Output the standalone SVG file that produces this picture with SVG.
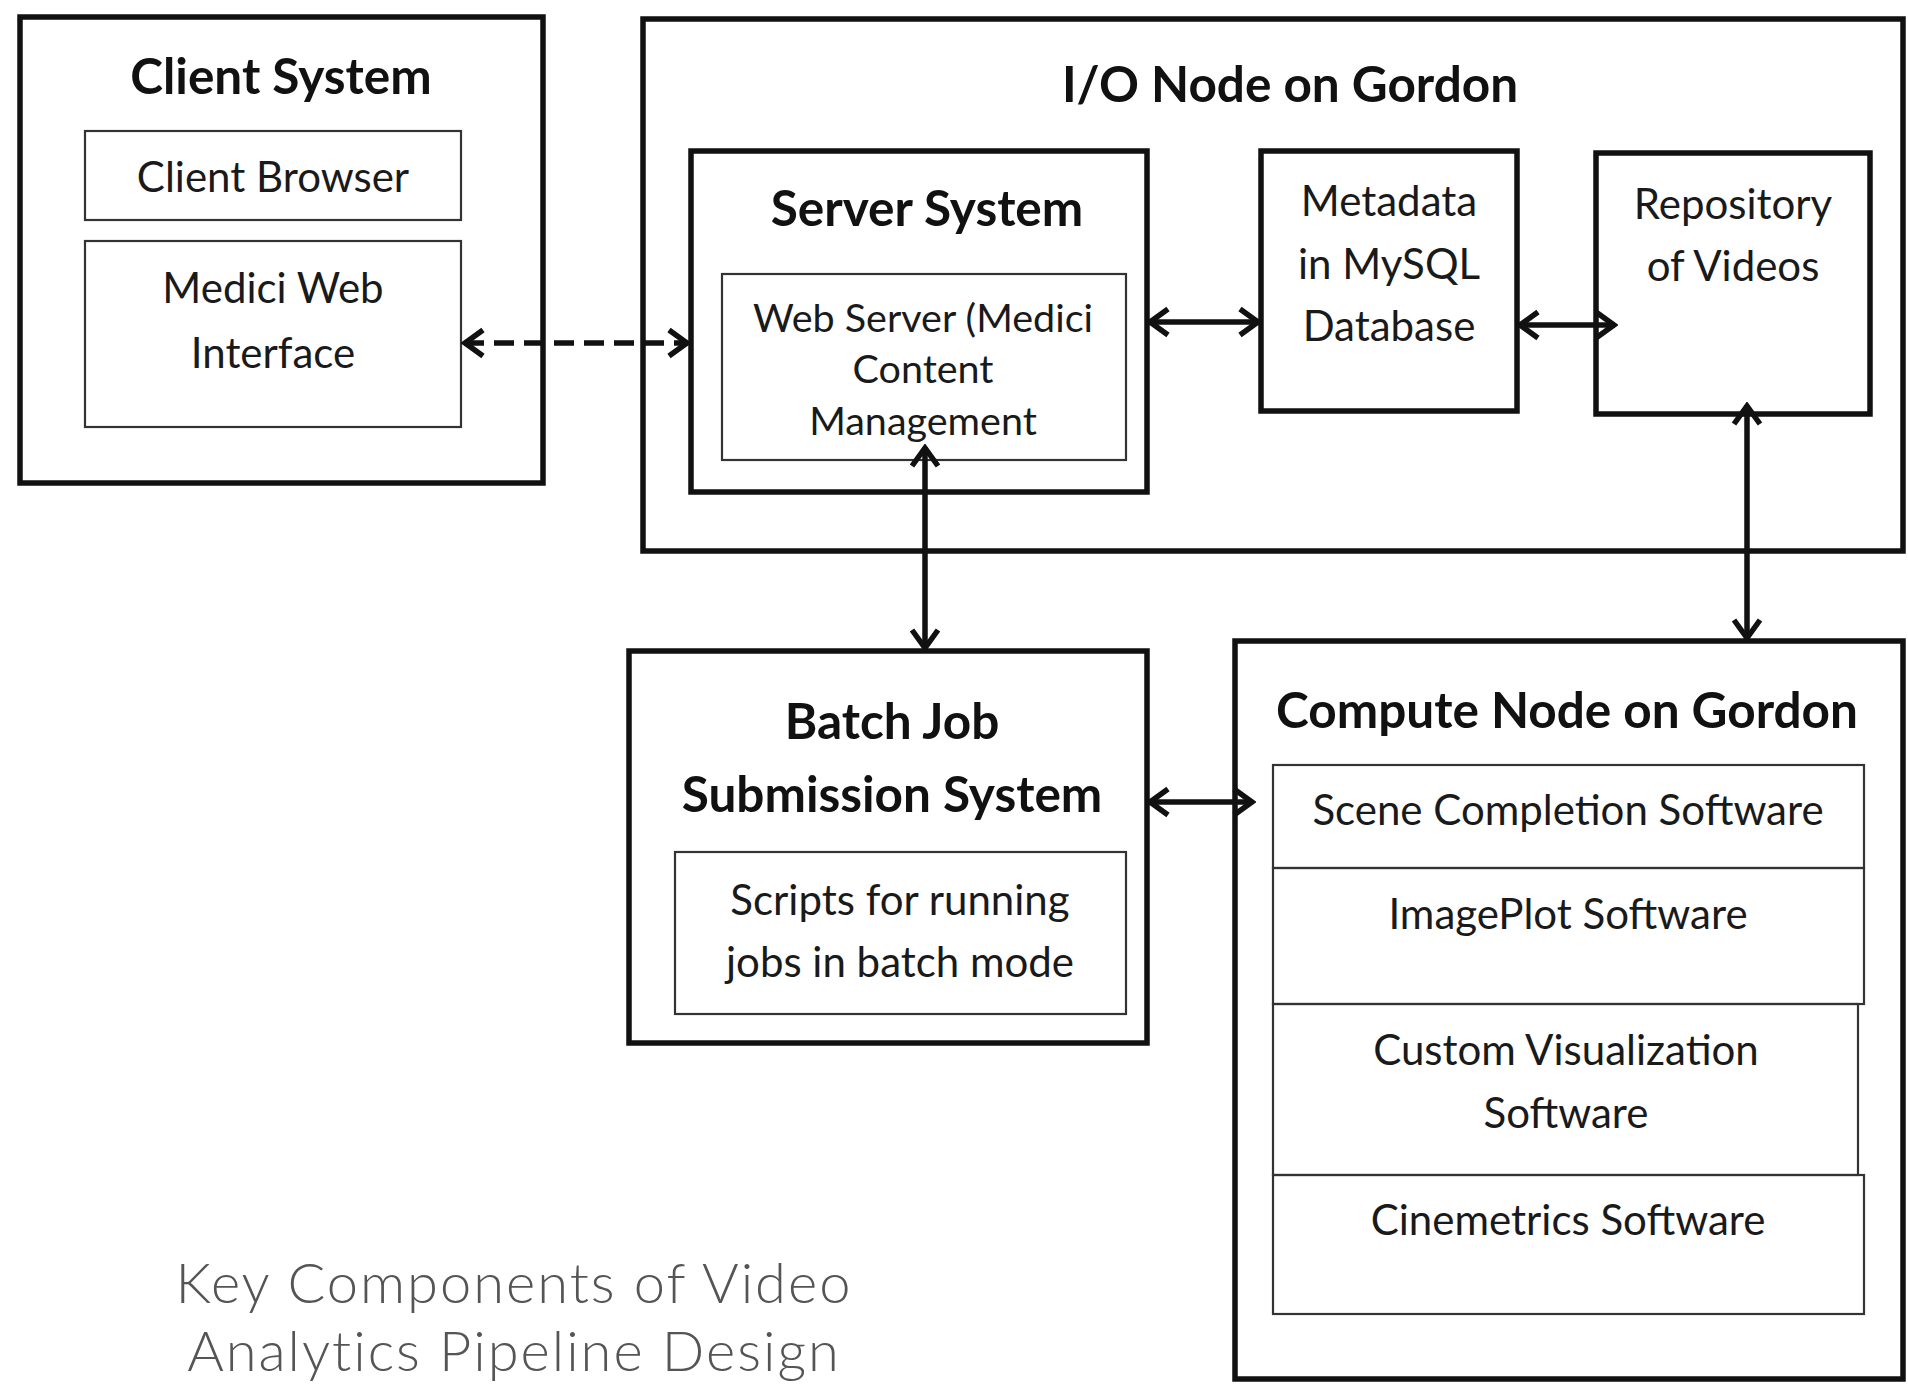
<svg xmlns="http://www.w3.org/2000/svg" width="1908" height="1384" viewBox="0 0 1908 1384">
<style>
  .outer { fill: none; stroke: #111; stroke-width: 5.5; }
  .inner { fill: none; stroke: #333; stroke-width: 2.2; }
  .t { font-family: Lato, "Liberation Sans", sans-serif; font-size: 42px; fill: #1a1a1a; text-anchor: middle; dominant-baseline: central; }
  .ws { font-size: 39.5px; }
  .b { font-family: Lato, "Liberation Sans", sans-serif; font-size: 49.5px; font-weight: bold; fill: #111; text-anchor: middle; dominant-baseline: central; }
  .cap { font-family: Lato, "Liberation Sans", sans-serif; font-weight: 300; font-size: 56px; letter-spacing: 2px; fill: #555; text-anchor: middle; }
  .conn { fill: none; stroke: #111; stroke-width: 5.5; }
  .dash { stroke-dasharray: 20 10; }
</style>
<defs>
  <marker id="arr" viewBox="0 0 26 34" refX="23" refY="17" markerWidth="26" markerHeight="34" markerUnits="userSpaceOnUse" orient="auto-start-reverse">
    <path d="M4,4 L22,17 L4,30" fill="none" stroke="#111" stroke-width="5.5"/>
  </marker>
</defs>
<rect width="1908" height="1384" fill="#fff"/>

<g id="client-system">
  <rect class="outer" x="20" y="17" width="523" height="466"/>
  <text class="b" x="281" y="75">Client System</text>
</g>
<g id="client-browser">
  <rect class="inner" x="85" y="131" width="376" height="89"/>
  <text class="t" x="273" y="176">Client Browser</text>
</g>
<g id="medici-web-interface">
  <rect class="inner" x="85" y="241" width="376" height="186"/>
  <text class="t" x="273" y="287">Medici Web</text>
  <text class="t" x="273" y="352">Interface</text>
</g>

<g id="io-node">
  <rect class="outer" x="643" y="19" width="1260" height="532"/>
  <text class="b" x="1290" y="83">I/O Node on Gordon</text>
</g>
<g id="server-system">
  <rect class="outer" x="691" y="151" width="456" height="341"/>
  <text class="b" x="927" y="207">Server System</text>
</g>
<g id="web-server">
  <rect class="inner" x="722" y="274" width="404" height="186"/>
  <text class="t ws" x="923" y="316">Web Server (Medici</text>
  <text class="t ws" x="923" y="367">Content</text>
  <text class="t ws" x="923" y="419">Management</text>
</g>
<g id="metadata">
  <rect class="outer" x="1261" y="151" width="256" height="260"/>
  <text class="t" x="1389" y="200">Metadata</text>
  <text class="t" x="1389" y="263">in MySQL</text>
  <text class="t" x="1389" y="325">Database</text>
</g>
<g id="repository">
  <rect class="outer" x="1596" y="153" width="274" height="261"/>
  <text class="t" x="1733" y="203">Repository</text>
  <text class="t" x="1733" y="265">of Videos</text>
</g>

<g id="batch-job">
  <rect class="outer" x="629" y="651" width="518" height="392"/>
  <text class="b" x="892" y="720">Batch Job</text>
  <text class="b" x="892" y="793">Submission System</text>
</g>
<g id="scripts">
  <rect class="inner" x="675" y="852" width="451" height="162"/>
  <text class="t" x="900" y="899">Scripts for running</text>
  <text class="t" x="900" y="961">jobs in batch mode</text>
</g>

<g id="compute-node">
  <rect class="outer" x="1235" y="641" width="668" height="738"/>
  <text class="b" x="1567" y="709">Compute Node on Gordon</text>
</g>
<g id="scene-completion">
  <rect class="inner" x="1273" y="765" width="591" height="103"/>
  <text class="t" x="1568" y="809">Scene Completion Software</text>
</g>
<g id="imageplot">
  <rect class="inner" x="1273" y="868" width="591" height="136"/>
  <text class="t" x="1568" y="913">ImagePlot Software</text>
</g>
<g id="custom-visualization">
  <rect class="inner" x="1273" y="1004" width="585" height="171"/>
  <text class="t" x="1566" y="1049">Custom Visualization</text>
  <text class="t" x="1566" y="1112">Software</text>
</g>
<g id="cinemetrics">
  <rect class="inner" x="1273" y="1175" width="591" height="139"/>
  <text class="t" x="1568" y="1219">Cinemetrics Software</text>
</g>

<g id="connectors">
  <line class="conn dash" x1="464" y1="343" x2="688" y2="343" marker-start="url(#arr)" marker-end="url(#arr)"/>
  <line class="conn" x1="1149" y1="322" x2="1259" y2="322" marker-start="url(#arr)" marker-end="url(#arr)"/>
  <line class="conn" x1="1519" y1="325" x2="1615" y2="325" marker-start="url(#arr)" marker-end="url(#arr)"/>
  <line class="conn" x1="925" y1="447" x2="925" y2="649" marker-start="url(#arr)" marker-end="url(#arr)"/>
  <line class="conn" x1="1747" y1="405" x2="1747" y2="639" marker-start="url(#arr)" marker-end="url(#arr)"/>
  <line class="conn" x1="1149" y1="802" x2="1253" y2="802" marker-start="url(#arr)" marker-end="url(#arr)"/>
</g>

<g id="caption">
  <text class="cap" x="514" y="1303">Key Components of Video</text>
  <text class="cap" x="514" y="1371">Analytics Pipeline Design</text>
</g>
</svg>
